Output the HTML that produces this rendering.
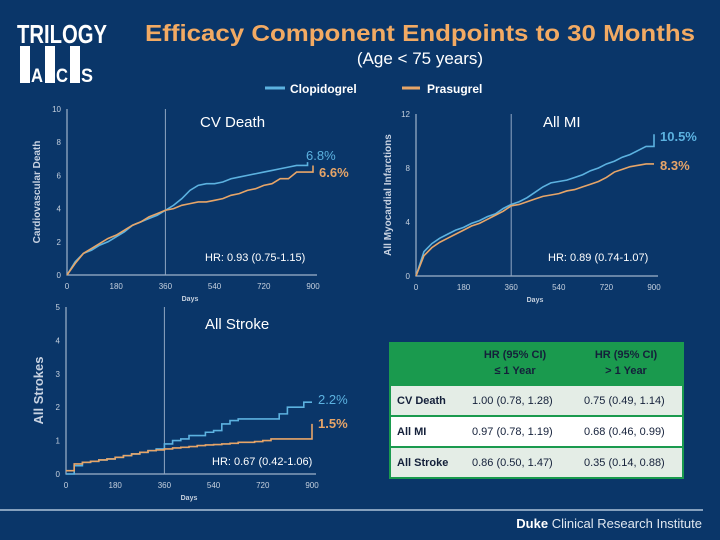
<!DOCTYPE html>
<html><head><meta charset="utf-8">
<style>
body{margin:0;background:#0a3669;}
svg{display:block;font-family:"Liberation Sans",sans-serif;}
</style></head>
<body>
<svg id="s" width="720" height="540" viewBox="0 0 720 540">
<rect width="720" height="540" fill="#0a3669"/>
<g>
<text x="62" y="43" text-anchor="middle" font-size="26" font-weight="bold" fill="#fff" textLength="90" lengthAdjust="spacingAndGlyphs">TRILOGY</text>
<rect x="20" y="46" width="10" height="37" fill="#fff"/><rect x="45" y="46" width="10" height="37" fill="#fff"/><rect x="70" y="46" width="10" height="37" fill="#fff"/>
<text x="31" y="82" font-size="19" font-weight="bold" fill="#fff" textLength="12" lengthAdjust="spacingAndGlyphs">A</text>
<text x="56" y="82" font-size="19" font-weight="bold" fill="#fff" textLength="12" lengthAdjust="spacingAndGlyphs">C</text>
<text x="81" y="82" font-size="19" font-weight="bold" fill="#fff" textLength="12" lengthAdjust="spacingAndGlyphs">S</text>
</g>
<text x="420" y="41" text-anchor="middle" font-size="23" font-weight="bold" fill="#f2aa63" textLength="550" lengthAdjust="spacingAndGlyphs">Efficacy Component Endpoints to 30 Months</text>
<text x="420" y="64" text-anchor="middle" font-size="17" fill="#fff">(Age &lt; 75 years)</text>
<g>
<line x1="265" y1="88" x2="285" y2="88" stroke="#5cb2e0" stroke-width="3"/>
<text x="290" y="93" font-size="12" font-weight="bold" fill="#fff">Clopidogrel</text>
<line x1="402" y1="88" x2="420" y2="88" stroke="#e7a568" stroke-width="3"/>
<text x="427" y="93" font-size="12" font-weight="bold" fill="#fff">Prasugrel</text>
</g>
<g id="charts"></g>
<g>
<rect x="389" y="342" width="295" height="137" fill="#1a9a4e"/>
<rect x="391" y="386" width="291" height="29" fill="#e4ede6"/>
<rect x="391" y="417" width="291" height="29" fill="#ffffff"/>
<rect x="391" y="448" width="291" height="29" fill="#e4ede6"/>
<g font-size="11" font-weight="bold" fill="#14203a" text-anchor="middle">
<text x="515" y="358">HR (95% CI)</text><text x="515" y="374">≤ 1 Year</text>
<text x="626" y="358">HR (95% CI)</text><text x="626" y="374">&gt; 1 Year</text>
</g>
<g font-size="11" fill="#14203a">
<text x="397" y="404" font-weight="bold">CV Death</text><text x="472" y="404">1.00 (0.78, 1.28)</text><text x="584" y="404">0.75 (0.49, 1.14)</text>
<text x="397" y="435" font-weight="bold">All MI</text><text x="472" y="435">0.97 (0.78, 1.19)</text><text x="584" y="435">0.68 (0.46, 0.99)</text>
<text x="397" y="466" font-weight="bold">All Stroke</text><text x="472" y="466">0.86 (0.50, 1.47)</text><text x="584" y="466">0.35 (0.14, 0.88)</text>
</g>
</g>
<line x1="0" y1="510" x2="703" y2="510" stroke="#cfe0f0" stroke-width="1.2"/>
<text x="702" y="528" text-anchor="end" font-size="13" fill="#dfe7f0"><tspan font-weight="bold" fill="#fff">Duke</tspan> Clinical Research Institute</text>
</svg>
<script>
const days=[0,30,60,90,120,150,180,210,240,270,300,330,360,390,420,450,480,510,540,570,600,630,660,690,720,750,780,810,840,870,900];
const cvDays=[0,30,60,90,120,150,180,210,240,270,300,330,360,390,420,450,480,510,540,570,600,630,660,690,720,750,780,810,840,870,880];
const cvClop=[0,0.8,1.3,1.5,1.8,2.0,2.3,2.6,3.0,3.2,3.4,3.6,3.9,4.2,4.6,5.1,5.4,5.5,5.5,5.6,5.8,5.9,6.0,6.1,6.2,6.3,6.4,6.5,6.6,6.6,6.8];
const cvPras=[0,0.7,1.3,1.6,1.9,2.2,2.4,2.7,3.0,3.2,3.5,3.7,3.9,4.0,4.2,4.3,4.4,4.4,4.5,4.6,4.8,4.9,5.1,5.2,5.4,5.5,5.8,5.8,6.2,6.2,6.6];
const miClop=[0,1.8,2.4,2.8,3.1,3.4,3.6,3.9,4.1,4.4,4.6,5.0,5.3,5.5,5.8,6.2,6.6,6.9,7.0,7.1,7.3,7.5,7.8,8.0,8.3,8.5,8.8,9.0,9.3,9.6,10.5];
const miPras=[0,1.5,2.1,2.5,2.8,3.1,3.4,3.7,3.9,4.2,4.5,4.8,5.2,5.3,5.5,5.7,5.9,6.0,6.1,6.3,6.4,6.6,6.8,7.0,7.3,7.7,7.9,8.1,8.2,8.3,8.3];
const stClop=[0,0.25,0.35,0.38,0.42,0.45,0.5,0.55,0.6,0.65,0.7,0.75,0.9,1.0,1.05,1.15,1.15,1.25,1.3,1.5,1.6,1.65,1.65,1.65,1.65,1.65,1.8,2.0,2.0,2.15,2.15];
const stPras=[0.1,0.3,0.35,0.38,0.42,0.45,0.5,0.55,0.6,0.65,0.7,0.72,0.75,0.78,0.8,0.82,0.85,0.87,0.88,0.9,0.92,0.95,0.95,0.97,1.0,1.05,1.05,1.05,1.05,1.05,1.5];
const xTicks=[0,180,360,540,720,900];

const charts=[
 {name:'cv-death',x0:67,x1:313,y0:275,y1:109,ymax:10,yTicks:[0,2,4,6,8,10],ytitle:'Cardiovascular Death',ytx:40,step:false,
  title:'CV Death',tx:200,ty:127,hr:'HR: 0.93 (0.75-1.15)',hx:205,hy:261,
  series:[[cvDays,cvClop,'#5cb2e0','6.8%',306,160,false],[days,cvPras,'#e7a568','6.6%',319,177,true]]},
 {name:'all-mi',x0:416,x1:654,y0:276,y1:114,ymax:12,yTicks:[0,4,8,12],ytitle:'All Myocardial Infarctions',ytx:391,step:false,
  title:'All MI',tx:543,ty:127,hr:'HR: 0.89 (0.74-1.07)',hx:548,hy:261,
  series:[[days,miClop,'#5cb2e0','10.5%',660,141,true],[days,miPras,'#e7a568','8.3%',660,170,true]]},
 {name:'all-stroke',x0:66,x1:312,y0:474,y1:307,ymax:5,yTicks:[0,1,2,3,4,5],ytitle:'All Strokes',ytx:43,step:true,
  title:'All Stroke',tx:205,ty:329,hr:'HR: 0.67 (0.42-1.06)',hx:212,hy:465,
  series:[[days,stClop,'#5cb2e0','2.2%',318,404,false],[days,stPras,'#e7a568','1.5%',318,428,true]]}
];
const NS='http://www.w3.org/2000/svg';
const root=document.getElementById('charts');
function mk(t,a,p){const e=document.createElementNS(NS,t);for(const k in a)e.setAttribute(k,a[k]);(p||root).appendChild(e);return e;}
charts.forEach(c=>{
 const g=mk('g',{});
 
 
 const X=d=>c.x0+(c.x1-c.x0)*d/900, Y=v=>c.y0-(c.y0-c.y1)*v/c.ymax;
 const ax=mk('path',{d:`M${c.x0},${c.y1}V${c.y0}H${c.x1+4}`,stroke:'#9fb3cc',fill:'none','stroke-width':1.2},g);
 
 
 const vl=mk('line',{x1:X(360),x2:X(360),y1:c.y1,y2:c.y0,stroke:'#8fa6c2','stroke-width':1},g);
 
 
 c.yTicks.forEach(t=>{const e=mk('text',{x:c.x0-6,y:Y(t)+3,'text-anchor':'end','font-size':8,fill:'#c5d0de'},g);e.textContent=t;
  
  });
 xTicks.forEach(t=>{const e=mk('text',{x:X(t),y:c.y0+14,'text-anchor':'middle','font-size':8,fill:'#c5d0de'},g);e.textContent=t;
  
  });
 const xt=mk('text',{x:(c.x0+c.x1)/2,y:c.y0+26,'text-anchor':'middle','font-size':7,'font-weight':'bold',fill:'#c5d0de'},g);xt.textContent='Days';
 
 
 const ym=(c.y0+c.y1)/2;
 const yt=mk('text',{x:c.ytx,y:ym,'text-anchor':'middle','font-size':c.name=='all-stroke'?13:10,'font-weight':'bold',fill:'#c9d3e2',transform:`rotate(-90 ${c.ytx} ${ym})`},g);yt.textContent=c.ytitle;
 
 
 c.series.forEach(s=>{
  const [dx,vy,col,lab,lx,ly,b]=s;
  let d=`M${X(dx[0])},${Y(vy[0])}`;
  const n=vy.length;
  for(let i=1;i<n;i++){
   if(c.step||i==n-1){d+=`H${X(dx[i])}V${Y(vy[i])}`;}
   else{d+=`L${X(dx[i])},${Y(vy[i])}`;}
  }
  const p=mk('path',{d,stroke:col,fill:'none','stroke-width':1.6},g);
  
  
  const t=mk('text',{x:lx,y:ly,'font-size':13,'font-weight':b?'bold':'normal',fill:col},g);t.textContent=lab;
  
  
 });
 const ti=mk('text',{x:c.tx,y:c.ty,'font-size':15,fill:'#fff'},g);ti.textContent=c.title;
 
 
 const h=mk('text',{x:c.hx,y:c.hy,'font-size':11,fill:'#fff'},g);h.textContent=c.hr;
 
 
});
</script>
</body></html>
